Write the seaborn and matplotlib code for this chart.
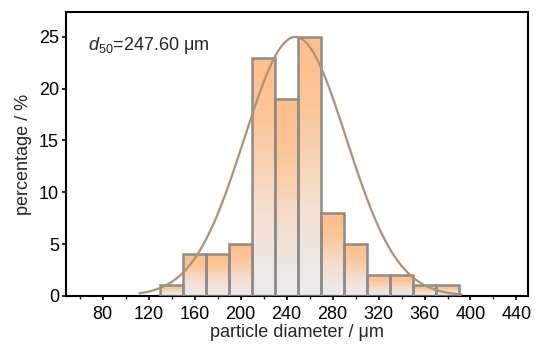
import numpy as np
import pandas as pd
import matplotlib
matplotlib.use("Agg")
import matplotlib.pyplot as plt
import seaborn as sns
from matplotlib.colors import LinearSegmentedColormap

# ---- data ----
bin_edges = [130, 150, 170, 190, 210, 230, 250, 270, 290, 310, 330, 350, 370, 390]
bin_centers = [140, 160, 180, 200, 220, 240, 260, 280, 300, 320, 340, 360, 380]
percentages = [1, 4, 4, 5, 23, 19, 25, 8, 5, 2, 2, 1, 1]
x_ticks = [80, 120, 160, 200, 240, 280, 320, 360, 400, 440]
y_ticks = [0, 5, 10, 15, 20, 25]
# Gaussian fit parameters
fit_mu = 247.6
fit_sigma = 44.5
fit_amp = 25.0
fit_range = (112, 392)

sns.set_theme(style="white")
main_font = "Liberation Sans"
fs = 13
plt.rcParams['font.family'] = [main_font, 'DejaVu Sans']
plt.rcParams['mathtext.fontset'] = 'custom'
plt.rcParams['mathtext.rm'] = main_font
plt.rcParams['mathtext.it'] = main_font + ':italic'

fig = plt.figure(figsize=(5.36, 3.44), dpi=100)
ax = fig.add_axes([0.123, 0.14, 0.862, 0.825])

df = pd.DataFrame({"x": bin_centers, "w": percentages})
sns.histplot(data=df, x="x", weights="w", bins=bin_edges, ax=ax,
             stat="count", fill=True, facecolor="none",
             edgecolor="#8e8b88", linewidth=1.8, zorder=3)

cmap = LinearSegmentedColormap.from_list(
    "og", [(0.0, "#ecebef"), (0.35, "#f3e0d0"), (0.75, "#fdc495"), (1.0, "#ffbf88")])
grad = np.linspace(0, 1, 256).reshape(-1, 1)
for p in ax.patches:
    x0, y0 = p.get_x(), p.get_y()
    w, h = p.get_width(), p.get_height()
    if h <= 0:
        continue
    im = ax.imshow(grad, cmap=cmap, origin="lower", aspect="auto",
                   extent=[x0, x0 + w, y0, y0 + h], zorder=2)
    im.set_clip_path(p)

xs = np.linspace(fit_range[0], fit_range[1], 300)
ys = fit_amp * np.exp(-(xs - fit_mu) ** 2 / (2 * fit_sigma ** 2))
sns.lineplot(x=xs, y=ys, ax=ax, color="#aa9476", linewidth=1.6, zorder=4)

ax.set_xlim(48, 450)
ax.set_ylim(0, 27.4)
ax.set_xticks(x_ticks)
ax.set_xticks([60 + 40 * i for i in range(10)], minor=True)
ax.set_yticks(y_ticks)
ax.tick_params(axis="both", which="major", direction="out", length=3, width=1.2,
               labelsize=fs, colors="black", bottom=True, left=True)
ax.tick_params(axis="x", which="major", pad=4)
ax.tick_params(axis="y", which="major", pad=2)
ax.tick_params(axis="x", which="minor", direction="out", length=2, width=1.0,
               bottom=True)
for s in ax.spines.values():
    s.set_color("black")
    s.set_linewidth(1.5)

ax.set_xlabel("particle diameter / μm", fontsize=fs, labelpad=1)
ax.set_ylabel("percentage / %", fontsize=fs, labelpad=5)

ax.text(67, 24.2, r"$d_{50}$=247.60 μm", fontsize=fs, va="center", ha="left")

fig.savefig("out.png", dpi=100)
